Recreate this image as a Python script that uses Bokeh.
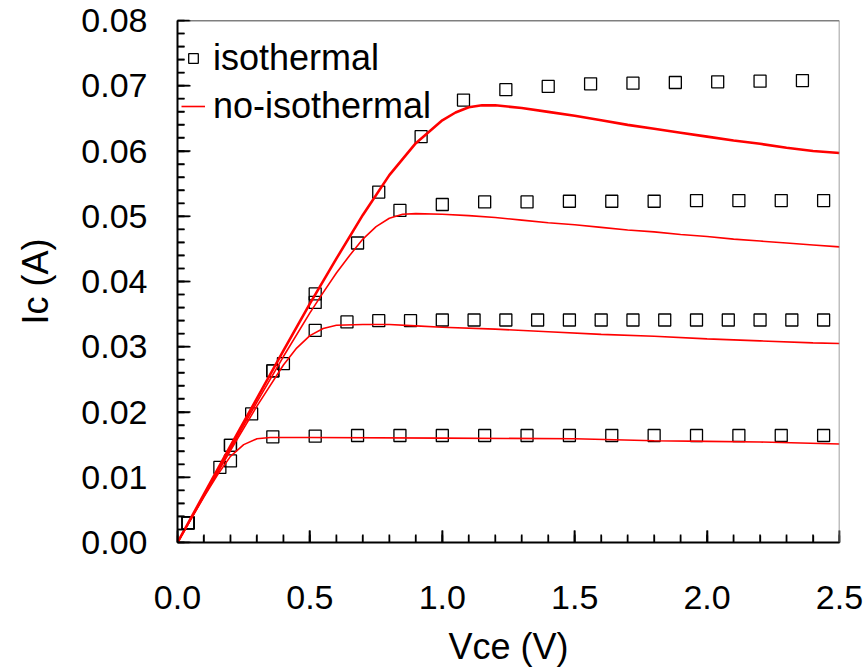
import numpy as np
from bokeh.plotting import figure
from bokeh.models import Range1d, Legend, LegendItem, Span, SingleIntervalTicker, CustomJSTickFormatter
from bokeh.embed import file_html
from bokeh.resources import INLINE

# ---------------- data ----------------
iso_v_1 = [0.04, 0.20, 0.36, 0.52, 0.68, 0.84, 1.00, 1.16, 1.32, 1.48, 1.64, 1.80, 1.96, 2.12, 2.28, 2.44]
iso_i_1 = [0.0030, 0.0125, 0.0162, 0.0163, 0.0164, 0.0164, 0.0164, 0.0164, 0.0164, 0.0164, 0.0164, 0.0164, 0.0164, 0.0164, 0.0164, 0.0164]

iso_v_2 = [0.04, 0.16, 0.28, 0.40, 0.52, 0.64, 0.76, 0.88, 1.00, 1.12, 1.24, 1.36, 1.48, 1.60, 1.72, 1.84, 1.96, 2.08, 2.20, 2.32, 2.44]
iso_i_2 = [0.0030, 0.0115, 0.0197, 0.0274, 0.0325, 0.0338, 0.0340, 0.0340, 0.0341, 0.0341, 0.0341, 0.0341, 0.0341, 0.0341, 0.0341, 0.0341, 0.0341, 0.0341, 0.0341, 0.0341, 0.0341]

iso_v_3 = [0.04, 0.20, 0.36, 0.52, 0.68, 0.84, 1.00, 1.16, 1.32, 1.48, 1.64, 1.80, 1.96, 2.12, 2.28, 2.44]
iso_i_3 = [0.0030, 0.0149, 0.0263, 0.0368, 0.0459, 0.0509, 0.0518, 0.0522, 0.0522, 0.0523, 0.0523, 0.0523, 0.0524, 0.0524, 0.0524, 0.0524]

iso_v_4 = [0.04, 0.20, 0.36, 0.52, 0.76, 0.92, 1.08, 1.24, 1.40, 1.56, 1.72, 1.88, 2.04, 2.20, 2.36]
iso_i_4 = [0.0030, 0.0149, 0.0263, 0.0381, 0.0537, 0.0622, 0.0678, 0.0694, 0.0699, 0.0703, 0.0704, 0.0705, 0.0706, 0.0707, 0.0708]

noiso_v_1 = [0.0, 0.05, 0.10, 0.15, 0.20, 0.25, 0.30, 0.35, 0.50, 1.00, 1.50, 1.80, 2.00, 2.20, 2.50]
noiso_i_1 = [0.0, 0.0035, 0.0070, 0.0103, 0.0132, 0.0150, 0.0159, 0.0161, 0.0161, 0.0160, 0.0159, 0.0156, 0.0155, 0.0154, 0.0151]

noiso_v_2 = [0.0, 0.10, 0.20, 0.30, 0.40, 0.45, 0.50, 0.55, 0.60, 0.70, 0.80, 0.90, 1.00, 1.20, 1.40, 1.60, 1.80, 2.00, 2.20, 2.40, 2.50]
noiso_i_2 = [0.0, 0.0071, 0.0141, 0.0209, 0.0272, 0.0298, 0.0317, 0.0328, 0.0333, 0.0334, 0.0334, 0.0332, 0.0330, 0.0327, 0.0323, 0.0319, 0.0316, 0.0312, 0.0309, 0.0306, 0.0305]

noiso_v_3 = [0.0, 0.10, 0.20, 0.30, 0.40, 0.50, 0.55, 0.60, 0.65, 0.70, 0.75, 0.80, 0.85, 0.90, 1.00, 1.10, 1.20, 1.30, 1.40, 1.50, 1.60, 1.70, 1.80, 1.90, 2.00, 2.10, 2.20, 2.30, 2.40, 2.50]
noiso_i_3 = [0.0, 0.0072, 0.0144, 0.0215, 0.0285, 0.0352, 0.0383, 0.0413, 0.0440, 0.0465, 0.0484, 0.0497, 0.0503, 0.0504, 0.0503, 0.0501, 0.0498, 0.0494, 0.0490, 0.0487, 0.0483, 0.0479, 0.0476, 0.0472, 0.0469, 0.0465, 0.0462, 0.0459, 0.0456, 0.0453]

noiso_v_4 = [0.0, 0.10, 0.20, 0.30, 0.40, 0.50, 0.60, 0.70, 0.80, 0.90, 1.00, 1.05, 1.10, 1.15, 1.20, 1.30, 1.40, 1.50, 1.60, 1.70, 1.80, 1.90, 2.00, 2.10, 2.20, 2.30, 2.40, 2.50]
noiso_i_4 = [0.0, 0.0074, 0.0148, 0.0221, 0.0294, 0.0366, 0.0435, 0.0502, 0.0563, 0.0612, 0.0647, 0.0659, 0.0667, 0.0670, 0.0670, 0.0666, 0.0660, 0.0654, 0.0647, 0.0640, 0.0634, 0.0628, 0.0622, 0.0616, 0.0611, 0.0605, 0.0600, 0.0597]

x_label = "Vce (V)"
y_label = "Ic (A)"
legend_labels = ["isothermal", "no-isothermal"]

X_MAX, Y_MAX = 2.5, 0.08
FW, FH = 662, 522

x_major = np.arange(0, X_MAX + 1e-9, 0.5)
x_minor = np.arange(0, X_MAX + 1e-9, 0.1)
y_major = np.arange(0, Y_MAX + 1e-9, 0.01)
y_minor = np.arange(0, Y_MAX + 1e-9, 0.002)

FONT = "Liberation Sans"

p = figure(frame_width=FW, frame_height=FH,
           min_border_left=177, min_border_right=28, min_border_top=20, min_border_bottom=127,
           x_range=Range1d(0, X_MAX), y_range=Range1d(0, Y_MAX),
           output_backend="svg", toolbar_location=None)
p.outline_line_color = None
p.grid.visible = False
p.background_fill_color = "white"
p.border_fill_color = "white"

# inward tick marks drawn as short lines (multi_line), pixel lengths converted to data units
px_x = X_MAX / FW
px_y = Y_MAX / FH
ytick_xs = [[0.0, 7 * px_x] for _ in y_minor] + [[0.0, 13 * px_x] for _ in y_major]
ytick_ys = [[float(v), float(v)] for v in y_minor] + [[float(v), float(v)] for v in y_major]
xtick_xs = [[float(v), float(v)] for v in x_minor] + [[float(v), float(v)] for v in x_major]
xtick_ys = [[0.0, 8 * px_y] for _ in x_minor] + [[0.0, 12 * px_y] for _ in x_major]
p.multi_line(xs=ytick_xs, ys=ytick_ys, line_color="black", line_width=1.6)
p.multi_line(xs=xtick_xs, ys=xtick_ys, line_color="black", line_width=1.6)

sq_kw = dict(marker="square", size=12, fill_color=None, line_color="black", line_width=1.3)
r_sq = p.scatter(iso_v_1, iso_i_1, **sq_kw)
p.scatter(iso_v_2, iso_i_2, **sq_kw)
p.scatter(iso_v_3, iso_i_3, **sq_kw)
p.scatter(iso_v_4, iso_i_4, **sq_kw)

r_ln = p.line(noiso_v_1, noiso_i_1, line_color="red", line_width=1.6)
p.line(noiso_v_2, noiso_i_2, line_color="red", line_width=1.6)
p.line(noiso_v_3, noiso_i_3, line_color="red", line_width=1.6)
p.line(noiso_v_4, noiso_i_4, line_color="red", line_width=2.6)

p.add_layout(Span(location=Y_MAX, dimension="width", line_color="black", line_width=1.5))
p.add_layout(Span(location=X_MAX, dimension="height", line_color="#808080", line_width=1.5))

p.xaxis.ticker = SingleIntervalTicker(interval=0.5, num_minor_ticks=5)
p.yaxis.ticker = SingleIntervalTicker(interval=0.01, num_minor_ticks=5)
p.xaxis.formatter = CustomJSTickFormatter(code="return tick.toFixed(1);")
p.yaxis.formatter = CustomJSTickFormatter(code="return tick.toFixed(2);")

for ax in (p.xaxis[0], p.yaxis[0]):
    ax.axis_line_color = "black"
    ax.axis_line_width = 2
    ax.major_tick_in = 12
    ax.major_tick_out = 0
    ax.minor_tick_in = 7
    ax.minor_tick_out = 0
    ax.major_tick_line_color = "black"
    ax.minor_tick_line_color = "black"
    ax.major_tick_line_width = 1.6
    ax.minor_tick_line_width = 1.3
    ax.major_label_text_font = FONT
    ax.major_label_text_font_size = "34px"
    ax.major_label_text_color = "black"
    ax.axis_label_text_font = FONT
    ax.axis_label_text_font_size = "36px"
    ax.axis_label_text_font_style = "normal"
    ax.axis_label_text_color = "black"

p.xaxis.axis_label = x_label
p.yaxis.axis_label = y_label
p.xaxis.major_label_standoff = 43
p.yaxis.major_label_standoff = 30
p.xaxis.axis_label_standoff = 14
p.yaxis.axis_label_standoff = 22

legend = Legend(items=[LegendItem(label=legend_labels[0], renderers=[r_sq]),
                       LegendItem(label=legend_labels[1], renderers=[r_ln])],
                location=(4, 414))
legend.border_line_color = None
legend.background_fill_alpha = 0
legend.label_text_font = FONT
legend.label_text_font_size = "36px"
legend.label_text_color = "black"
legend.label_height = 44
legend.glyph_width = 24
legend.glyph_height = 30
legend.label_standoff = 8
legend.spacing = 4
legend.padding = 0
legend.margin = 0
p.add_layout(legend)

open("out.html", "w").write(file_html(p, INLINE))
